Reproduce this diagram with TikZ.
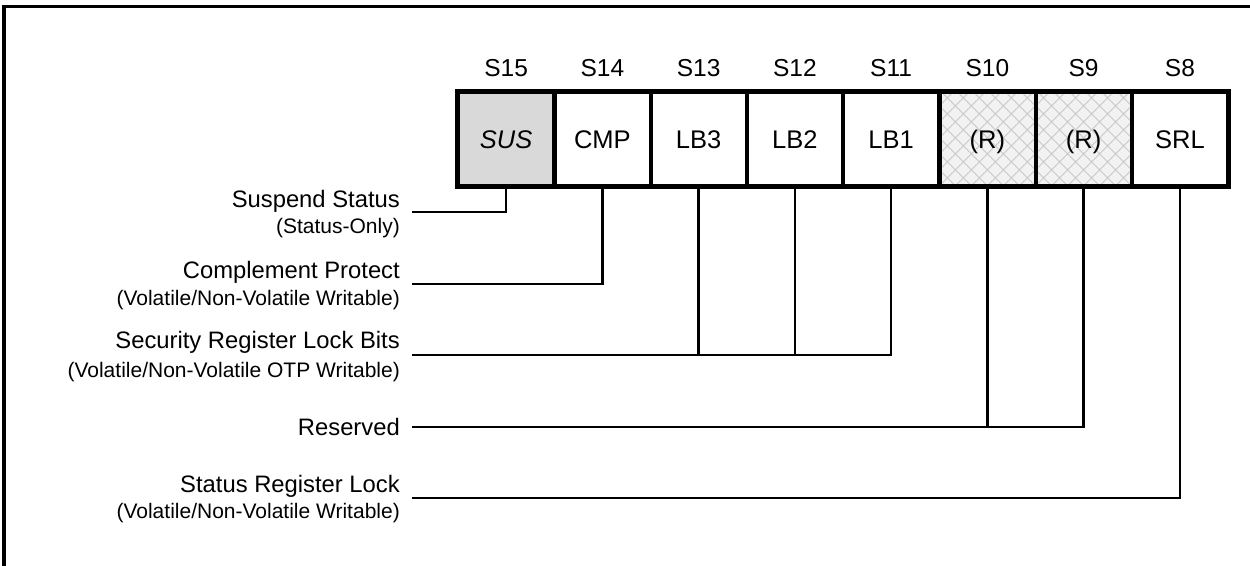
\documentclass[tikz,border=0pt]{standalone}
\usepackage{fontspec}
\setmainfont{Liberation Sans}
\definecolor{susgray}{HTML}{D9D9D9}
\definecolor{hatchbg}{HTML}{F2F2F2}
\definecolor{hatchln}{HTML}{C8C8C8}
\begin{document}
\begin{tikzpicture}[x=1pt,y=-1pt,
  cell/.style={minimum width=96.25pt, minimum height=94pt, inner sep=0pt,
    font=\fontsize{25.5}{30}\selectfont, text height=18.3pt, text depth=0pt},
  toplbl/.style={anchor=base, inner sep=0pt, font=\fontsize{24.5}{29}\selectfont},
  mainlbl/.style={anchor=base east, inner sep=0pt, font=\fontsize{23.8}{28}\selectfont},
  sublbl/.style={anchor=base east, inner sep=0pt, font=\fontsize{21}{25}\selectfont},
  conn/.style={line width=2.7pt},
  framel/.style={line width=3.2pt},
  regborder/.style={line width=4.8pt},
  divider/.style={line width=4.4pt},
  hatch/.style={fill=hatchbg, path picture={
    \foreach \k in {-8,...,8} {
      \draw[hatchln, line width=0.9pt]
        ([xshift=\k*16pt]path picture bounding box.south west) -- ++(130pt,130pt);
      \draw[hatchln, line width=0.9pt]
        ([xshift=\k*16pt]path picture bounding box.south east) -- ++(-130pt,130pt);
    }}}
]
\useasboundingbox (0,0) rectangle (1250,565);
\draw[framel] (4,570) -- (4,6.5) -- (1256,6.5);

% register cells
\node[cell, fill=susgray] (c15) at (506.1,139) {\itshape SUS};
\node[cell] (c14) at (602.4,139) {CMP};
\node[cell] (c13) at (698.6,139) {LB3};
\node[cell] (c12) at (794.9,139) {LB2};
\node[cell] (c11) at (891.1,139) {LB1};
\node[cell, hatch] (c10) at (987.4,139) {(R)};
\node[cell, hatch] (c9) at (1083.6,139) {(R)};
\node[cell] (c8) at (1179.9,139) {SRL};

\foreach \c in {c15,c14,c13,c12,c11,c10,c9}
  \draw[divider] (\c.north east) -- (\c.south east);
\draw[regborder] (c15.north west) rectangle (c8.south east);

% bit numbers
\node[toplbl] (t15) at ([yshift=15pt]c15.north) {S15};
\node[toplbl] (t14) at ([yshift=15pt]c14.north) {S14};
\node[toplbl] (t13) at ([yshift=15pt]c13.north) {S13};
\node[toplbl] (t12) at ([yshift=15pt]c12.north) {S12};
\node[toplbl] (t11) at ([yshift=15pt]c11.north) {S11};
\node[toplbl] (t10) at ([yshift=15pt]c10.north) {S10};
\node[toplbl] (t9) at ([yshift=15pt]c9.north) {S9};
\node[toplbl] (t8) at ([yshift=15pt]c8.north) {S8};

% left labels
\node[mainlbl] (l1) at (400,207) {Suspend Status};
\node[sublbl] (l1s) at (400,233) {(Status-Only)};
\node[mainlbl] (l2) at (400,278) {Complement Protect};
\node[sublbl] (l2s) at (400,305) {(Volatile/Non-Volatile Writable)};
\node[mainlbl] (l3) at (400,348) {Security Register Lock Bits};
\node[sublbl] (l3s) at (400,377) {(Volatile/Non-Volatile OTP Writable)};
\node[mainlbl] (l4) at (400,435) {Reserved};
\node[mainlbl] (l5) at (400,492) {Status Register Lock};
\node[sublbl] (l5s) at (400,518) {(Volatile/Non-Volatile Writable)};

% connector start points
\coordinate (a1) at (412,212);
\coordinate (a2) at (412,284);
\coordinate (a3) at (412,355);
\coordinate (a4) at (412,427);
\coordinate (a5) at (412,498);

\draw[conn] (a1) -| (c15.south);
\draw[conn] (a2) -| (c14.south);
\draw[conn] (a3) -| (c11.south);
\draw[conn] (c13.south) -- (c13.south |- a3);
\draw[conn] (c12.south) -- (c12.south |- a3);
\draw[conn] (a4) -| (c9.south);
\draw[conn] (c10.south) -- (c10.south |- a4);
\draw[conn] (a5) -| (c8.south);
\end{tikzpicture}
\end{document}
